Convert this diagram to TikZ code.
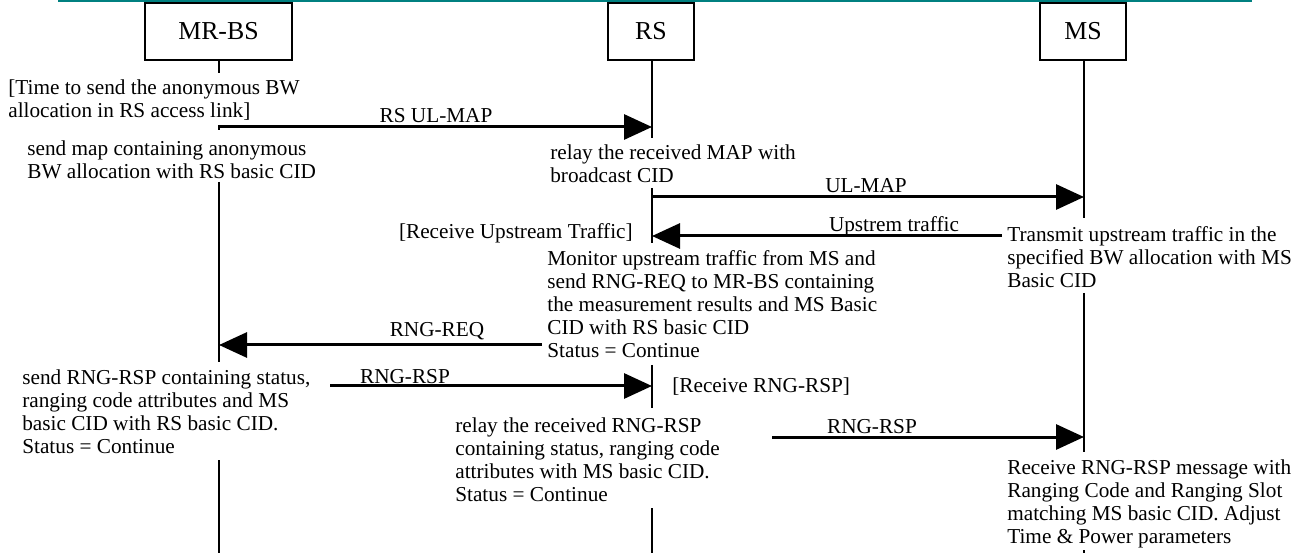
\documentclass[tikz,border=0pt]{standalone}
\usepackage{fontspec}
\setmainfont{Liberation Serif}
\usetikzlibrary{arrows.meta}
\definecolor{hdrteal}{RGB}{0,128,128}
\begin{document}
\begin{tikzpicture}[x=0.6pt,y=-0.6pt,
  actor/.style={draw,line width=1.2pt,minimum height=34.2pt,inner sep=0pt,font=\fontsize{15.5}{18}\selectfont},
  life/.style={line width=1.1pt},
  msg/.style={line width=1.8pt,-{Triangle[length=16.8pt,width=15pt]}},
  note/.style={inner sep=0pt,align=left,anchor=north west,font=\fontsize{12.75}{13.9}\selectfont},
  lbl/.style={inner sep=0pt,font=\fontsize{12.75}{13.9}\selectfont}]
\useasboundingbox (0,0) rectangle (1305,553);
\draw[hdrteal,line width=1.2pt] (58,0.6) -- (1252,0.6);
% actors
\node[actor,minimum width=88.2pt] (mrbs) at (218.5,31.5) {MR-BS};
\node[actor,minimum width=51.6pt] (rs) at (651,31.5) {RS};
\node[actor,minimum width=51.6pt] (ms) at (1083,31.5) {MS};
% lifeline coordinates
\coordinate (b1) at (219,73);   \coordinate (b2) at (219,125);
\coordinate (b3) at (219,130);  \coordinate (b4) at (219,182);
\coordinate (b5) at (219,362);  \coordinate (b6) at (219,460);
\coordinate (b7) at (219,553);
\coordinate (r1) at (652,138);  \coordinate (r2) at (652,188);
\coordinate (r3) at (652,243);  \coordinate (r4) at (652,365);
\coordinate (r5) at (652,408);  \coordinate (r6) at (652,508);
\coordinate (r7) at (652,553);
\coordinate (m1) at (1084,218); \coordinate (m2) at (1084,293);
\coordinate (m3) at (1084,452); \coordinate (m4) at (1084,550);
\coordinate (m5) at (1084,553);
\draw[life] (mrbs.south -| b1) -- (b1) (b2) -- (b3) (b4) -- (b5) (b6) -- (b7);
\draw[life] (rs.south -| r1) -- (r1) (r2) -- (r3) (r4) -- (r5) (r6) -- (r7);
\draw[life] (ms.south -| m1) -- (m1) (m2) -- (m3) (m4) -- (m5);
% message end points
\coordinate (s1) at (219,127);  \coordinate (e1) at (652,127);
\coordinate (s2) at (652,197);  \coordinate (e2) at (1084,197);
\coordinate (s3) at (1002,236); \coordinate (e3) at (652,236);
\coordinate (s4) at (542,345);  \coordinate (e4) at (219,345);
\coordinate (s5) at (330,386);  \coordinate (e5) at (652,386);
\coordinate (s6) at (772,437);  \coordinate (e6) at (1084,437);
\draw[msg] (s1) -- (e1);
\draw[msg] (s2) -- (e2);
\draw[msg] (s3) -- (e3);
\draw[msg] (s4) -- (e4);
\draw[msg] (s5) -- (e5);
\draw[msg] (s6) -- (e6);
% message labels
\node[lbl] (l1) at (436,116) {RS UL-MAP};
\node[lbl] (l2) at (866,186) {UL-MAP};
\node[lbl] (l3) at (894,226) {Upstrem traffic};
\node[lbl] (l4) at (437,331) {RNG-REQ};
\node[lbl] (l5) at (405,377) {RNG-RSP};
\node[lbl] (l6) at (872,427) {RNG-RSP};
% notes
\node[note] (n1) at (8,79) {[Time to send the anonymous BW\\allocation in RS access link]};
\node[note] (n2) at (27,140) {send map containing anonymous\\BW allocation with RS basic CID};
\node[note] (n3) at (550,144) {relay the received MAP with\\broadcast CID};
\node[lbl,anchor=east] (n4) at (633,233) {[Receive Upstream Traffic]};
\node[note] (n5) at (1007,226) {Transmit upstream traffic in the\\specified BW allocation with MS\\Basic CID};
\node[note] (n6) at (547,250) {Monitor upstream traffic from MS and\\send RNG-REQ to MR-BS containing\\the measurement results and MS Basic\\CID with RS basic CID\\Status = Continue};
\node[note] (n7) at (22,369) {send RNG-RSP containing status,\\ranging code attributes and MS\\basic CID with RS basic CID.\\Status = Continue};
\node[lbl,anchor=west] (n8) at (672,387) {[Receive RNG-RSP]};
\node[note] (n9) at (455,417) {relay the received RNG-RSP\\containing status, ranging code\\attributes with MS basic CID.\\Status = Continue};
\node[note] (n10) at (1007,459) {Receive RNG-RSP message with\\Ranging Code and Ranging Slot\\matching MS basic CID. Adjust\\Time \& Power parameters};
\end{tikzpicture}
\end{document}
